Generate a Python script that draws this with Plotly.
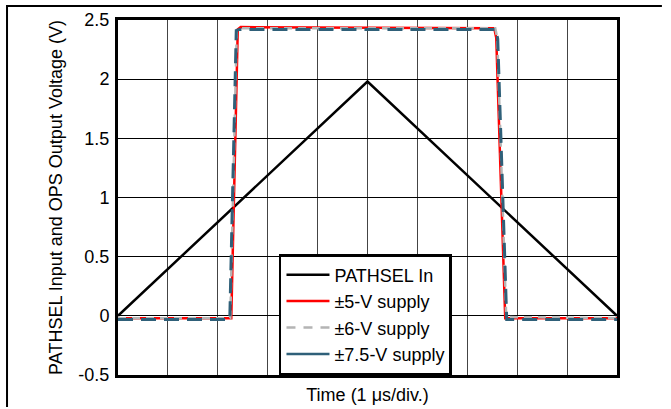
import plotly.graph_objects as go

# time in divisions (1 us/div)
t_in = [0, 5, 10]
v_in = [0, 1.98, 0]

t_5v = [0, 2.27, 2.40, 2.46, 7.54, 7.58, 7.76, 10]
v_5v = [-0.02, -0.02, 2.42, 2.44, 2.43, 2.35, -0.02, -0.02]

t_6v = [0, 2.25, 2.38, 2.44, 7.56, 7.60, 7.78, 10]
v_6v = [-0.02, -0.02, 2.41, 2.43, 2.43, 2.35, -0.01, -0.02]

t_75v = [0, 2.24, 2.37, 2.43, 7.57, 7.61, 7.79, 10]
v_75v = [-0.03, -0.03, 2.41, 2.42, 2.42, 2.34, -0.03, -0.03]

y_ticks = [-0.5, 0, 0.5, 1, 1.5, 2, 2.5]
y_labels = ["-0.5", "0", "0.5", "1", "1.5", "2", "2.5"]

RED = "#ff0000"
GRAY = "#b4b4b4"
BLUE = "#2f6079"

fig = go.Figure()
fig.add_trace(go.Scatter(x=t_in, y=v_in, mode="lines", showlegend=False,
                         line=dict(color="black", width=2.5)))
fig.add_trace(go.Scatter(x=t_5v, y=v_5v, mode="lines", showlegend=False,
                         line=dict(color=RED, width=2.5)))
fig.add_trace(go.Scatter(x=t_6v, y=v_6v, mode="lines", showlegend=False,
                         line=dict(color=GRAY, width=2.5, dash="8px,6px")))
fig.add_trace(go.Scatter(x=t_75v, y=v_75v, mode="lines", showlegend=False,
                         line=dict(color=BLUE, width=3, dash="15px,8px")))

# legend entries
fig.add_trace(go.Scatter(x=[None], y=[None], mode="lines", name="PATHSEL In",
                         line=dict(color="black", width=2.5)))
fig.add_trace(go.Scatter(x=[None], y=[None], mode="lines", name="\u00b15-V supply",
                         line=dict(color=RED, width=2.5)))
fig.add_trace(go.Scatter(x=[None], y=[None], mode="lines", name="\u00b16-V supply",
                         line=dict(color=GRAY, width=2.5, dash="9px,8px")))
fig.add_trace(go.Scatter(x=[None], y=[None], mode="lines", name="\u00b17.5-V supply",
                         line=dict(color=BLUE, width=2.5)))

fig.update_layout(
    width=671, height=409,
    margin=dict(l=118, r=54, t=20, b=34),
    paper_bgcolor="white", plot_bgcolor="white",
    font=dict(family="Liberation Sans, Arial, sans-serif", size=18, color="black"),
    legend=dict(x=0.3226, y=0, xanchor="left", yanchor="bottom",
                bordercolor="black", borderwidth=2.5, bgcolor="white",
                font=dict(size=18), tracegroupgap=0, itemwidth=43),
    xaxis=dict(range=[0, 10], dtick=1, tick0=0, showticklabels=False,
               showgrid=True, gridcolor="#444444", gridwidth=1,
               showline=True, linecolor="black", linewidth=3, mirror=True,
               zeroline=False, automargin=False,
               title=dict(text="Time (1 \u03bcs/div.)", standoff=12,
                          font=dict(size=18))),
    yaxis=dict(range=[-0.5, 2.5], tickvals=y_ticks, ticktext=y_labels,
               showgrid=True, gridcolor="black", gridwidth=1,
               showline=True, linecolor="black", linewidth=3, mirror=True,
               zeroline=False, ticks="", ticklabelstandoff=2, automargin=False,
               title=dict(text="PATHSEL Input and OPS Output Voltage (V)",
                          standoff=12, font=dict(size=18))),
    # outer frame (left and top edges) as one open path
    shapes=[
        dict(type="path", xref="paper", yref="paper",
             path="M -0.2224,-0.09 L -0.2224,1.0394 L 1.09,1.0394",
             line=dict(color="black", width=2)),
    ],
)

# no page margin / scrollbars so the figure fills the window exactly
fig.write_html("out.html", config={"displayModeBar": False},
               post_script="document.body.style.margin='0';"
                           "document.body.style.overflow='hidden';")
